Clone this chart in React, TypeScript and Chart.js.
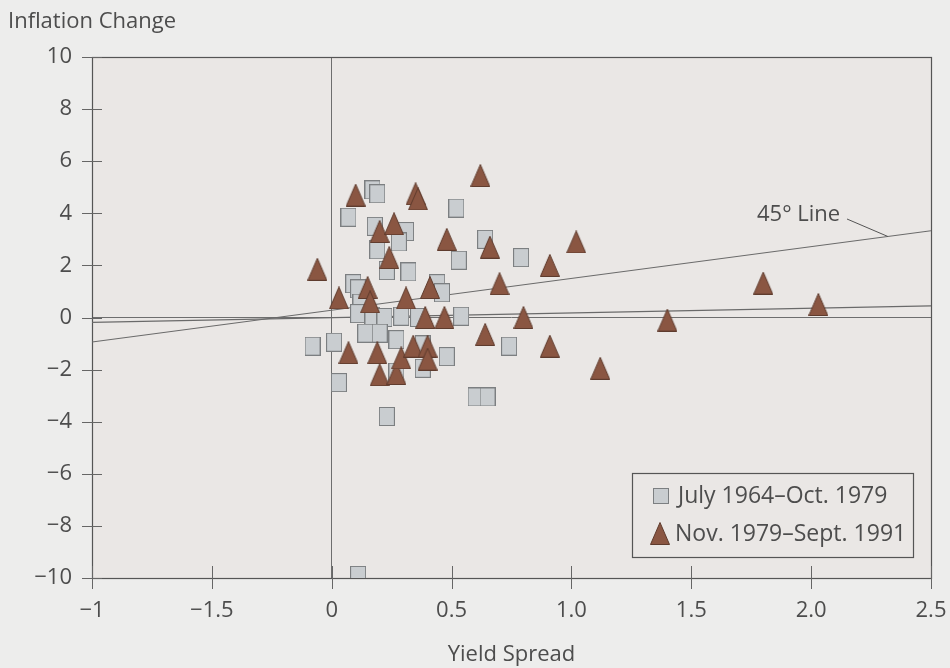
import React, { useEffect, useRef } from 'react';
import { Chart, registerables } from 'chart.js';

Chart.register(...registerables);

const seriesNames = ['July 1964–Oct. 1979', 'Nov. 1979–Sept. 1991'];
const xTickLabels = ['−1', '−1.5', '0', '0.5', '1.0', '1.5', '2.0', '2.5'];
const yTickLabels = ['−10', '−8', '−6', '−4', '−2', '0', '2', '4', '6', '8', '10'];

const squaresX = [-0.08, 0.01, 0.03, 0.07, 0.09, 0.11, 0.12, 0.11, 0.17, 0.22, 0.14, 0.2, 0.27, 0.17, 0.19, 0.18, 0.31, 0.28, 0.19, 0.23, 0.32, 0.52, 0.64, 0.53, 0.79, 0.44, 0.46, 0.54, 0.48, 0.74, 0.38, 0.27, 0.23, 0.6, 0.65, 0.11, 0.29, 0.36, 0.38];
const squaresY = [-1.1, -0.95, -2.5, 3.85, 1.3, 1.1, 0.55, 0.15, 0.05, 0, -0.6, -0.6, -0.85, 4.9, 4.75, 3.5, 3.3, 2.9, 2.6, 1.8, 1.75, 4.2, 3.0, 2.2, 2.3, 1.3, 0.95, 0.05, -1.5, -1.1, -1.95, -2.1, -3.8, -3.05, -3.05, -9.9, 0.05, 0, -1.05];

const trianglesX = [-0.06, 0.03, 0.07, 0.1, 0.15, 0.16, 0.2, 0.19, 0.2, 0.24, 0.26, 0.27, 0.29, 0.31, 0.35, 0.36, 0.34, 0.4, 0.4, 0.41, 0.39, 0.47, 0.48, 0.62, 0.66, 0.64, 0.7, 0.8, 0.91, 0.91, 1.02, 1.12, 1.4, 1.8, 2.03];
const trianglesY = [1.85, 0.75, -1.35, 4.7, 1.15, 0.6, 3.3, -1.35, -2.2, 2.3, 3.6, -2.15, -1.55, 0.75, 4.75, 4.55, -1.1, -1.1, -1.6, 1.15, 0, 0, 3.0, 5.45, 2.7, -0.65, 1.3, 0, 2.0, -1.1, 2.9, -1.95, -0.1, 1.32, 0.5];

const line45X = [-1, 2.5];
const line45Y = [-0.94, 3.33];
const fitX = [-1, 2.5];
const fitY = [-0.19, 0.45];

const FONT = "'Open Sans', sans-serif";
const TEXT = '#4d4d4d';
const SQ_FILL = '#c9cdd0';
const SQ_EDGE = '#7c7f81';
const TRI_FILL = '#8a5642';
const TRI_EDGE = '#5e3b2d';

function makeSquare(w: number, h: number) {
  const c = document.createElement('canvas');
  c.width = w;
  c.height = h;
  const g = c.getContext('2d')!;
  g.fillStyle = SQ_FILL;
  g.fillRect(0.5, 0.5, w - 1, h - 1);
  g.strokeStyle = SQ_EDGE;
  g.lineWidth = 1;
  g.strokeRect(0.5, 0.5, w - 1, h - 1);
  return c;
}

function makeTriangle(w: number, h: number) {
  const c = document.createElement('canvas');
  c.width = w;
  c.height = h;
  const g = c.getContext('2d')!;
  g.beginPath();
  g.moveTo(w / 2, 0.5);
  g.lineTo(w - 0.5, h - 0.5);
  g.lineTo(0.5, h - 0.5);
  g.closePath();
  g.fillStyle = TRI_FILL;
  g.fill();
  g.strokeStyle = TRI_EDGE;
  g.lineWidth = 1;
  g.stroke();
  return c;
}

export default function App() {
  const ref = useRef<HTMLCanvasElement | null>(null);

  useEffect(() => {
    if (!ref.current) return;
    const sqImg = makeSquare(16, 19);
    const triImg = makeTriangle(20, 23);
    const sqLegend = makeSquare(16, 16);

    const decor = {
      id: 'decor',
      beforeDraw(chart: any) {
        const { ctx, chartArea: a } = chart;
        ctx.save();
        ctx.fillStyle = '#ededec';
        ctx.fillRect(0, 0, chart.width, chart.height);
        ctx.fillStyle = '#eae7e5';
        ctx.fillRect(a.left, a.top, a.right - a.left, a.bottom - a.top);
        ctx.restore();
      },
      beforeDatasetsDraw(chart: any) {
        const { ctx, chartArea: a, scales } = chart;
        ctx.save();
        ctx.strokeStyle = '#555555';
        ctx.lineWidth = 1.2;
        ctx.strokeRect(a.left + 0.5, a.top + 0.5, a.right - a.left, a.bottom - a.top);
        ctx.lineWidth = 1;
        ctx.strokeStyle = '#666666';
        ctx.beginPath();
        scales.x.ticks.forEach((t: any) => {
          const px = Math.round(scales.x.getPixelForValue(t.value)) + 0.5;
          ctx.moveTo(px, a.bottom - 12);
          ctx.lineTo(px, a.bottom + 11);
        });
        scales.y.ticks.forEach((t: any) => {
          const py = Math.round(scales.y.getPixelForValue(t.value)) + 0.5;
          ctx.moveTo(a.left - 10, py);
          ctx.lineTo(a.left + 10, py);
        });
        ctx.stroke();
        ctx.restore();
      },
      afterDraw(chart: any) {
        const { ctx, chartArea: a, scales } = chart;
        ctx.save();
        ctx.fillStyle = TEXT;
        ctx.font = `22px ${FONT}`;
        ctx.textBaseline = 'middle';
        ctx.textAlign = 'left';
        ctx.fillText('Inflation Change', 8, 22);
        ctx.textAlign = 'center';
        ctx.fillText('Yield Spread', (a.left + a.right) / 2, 655);

        // 45° line label
        ctx.textAlign = 'left';
        ctx.font = `22px ${FONT}`;
        ctx.fillText('45° Line', 757, 215);
        const ex = 2.32;
        const ey = line45Y[0] + ((ex - line45X[0]) * (line45Y[1] - line45Y[0])) / (line45X[1] - line45X[0]);
        ctx.strokeStyle = '#555555';
        ctx.lineWidth = 1;
        ctx.beginPath();
        ctx.moveTo(847, 219);
        ctx.lineTo(scales.x.getPixelForValue(ex), scales.y.getPixelForValue(ey));
        ctx.stroke();

        // legend
        ctx.strokeStyle = '#555555';
        ctx.lineWidth = 1.2;
        ctx.strokeRect(632.5, 473.5, 281, 84);
        ctx.drawImage(sqLegend, 653, 488);
        ctx.drawImage(triImg, 650, 522);
        ctx.fillStyle = TEXT;
        ctx.font = `23px ${FONT}`;
        ctx.textBaseline = 'middle';
        ctx.fillText(seriesNames[0], 678, 496);
        ctx.fillText(seriesNames[1], 675, 534);
        ctx.restore();
      },
    };

    const gridColor = (c: any) => (c.tick && c.tick.value === 0 ? '#6e6e6e' : 'rgba(0,0,0,0)');

    const chart = new Chart(ref.current, {
      type: 'scatter',
      data: {
        datasets: [
          {
            label: seriesNames[0],
            data: squaresX.map((x, i) => ({ x, y: squaresY[i] })),
            pointStyle: sqImg as any,
            pointRadius: 10,
            order: 2,
          },
          {
            label: seriesNames[1],
            data: trianglesX.map((x, i) => ({ x, y: trianglesY[i] })),
            pointStyle: triImg as any,
            pointRadius: 10,
            order: 1,
          },
          {
            label: '45° Line',
            data: line45X.map((x, i) => ({ x, y: line45Y[i] })),
            showLine: true,
            borderColor: '#6a6a6a',
            borderWidth: 1.2,
            pointRadius: 0,
            order: 3,
          },
          {
            label: 'Fit',
            data: fitX.map((x, i) => ({ x, y: fitY[i] })),
            showLine: true,
            borderColor: '#6a6a6a',
            borderWidth: 1.2,
            pointRadius: 0,
            order: 3,
          },
        ],
      },
      options: {
        animation: false,
        responsive: true,
        maintainAspectRatio: false,
        layout: { padding: { top: 57, right: 19, left: 0, bottom: 0 } },
        plugins: {
          legend: { display: false },
          tooltip: { enabled: false },
          title: { display: false },
        },
        scales: {
          x: {
            type: 'linear',
            min: -1,
            max: 2.5,
            afterFit: (s: any) => {
              s.height = 90;
              s.paddingLeft = 0;
              s.paddingRight = 0;
            },
            ticks: {
              stepSize: 0.5,
              autoSkip: false,
              maxRotation: 0,
              padding: 20,
              color: TEXT,
              font: { family: FONT, size: 22 },
              callback: (_v: any, i: number) => xTickLabels[i],
            },
            grid: { color: gridColor, drawTicks: false, lineWidth: 1 },
            border: { display: false },
          },
          y: {
            type: 'linear',
            min: -10,
            max: 10,
            afterFit: (s: any) => {
              s.width = 92;
              s.paddingTop = 0;
              s.paddingBottom = 0;
            },
            ticks: {
              stepSize: 2,
              autoSkip: false,
              padding: 20,
              color: TEXT,
              font: { family: FONT, size: 22 },
              callback: (_v: any, i: number) => yTickLabels[i],
            },
            grid: { color: gridColor, drawTicks: false, lineWidth: 1 },
            border: { display: false },
          },
        },
      },
      plugins: [decor],
    });

    return () => chart.destroy();
  }, []);

  return (
    <div style={{ position: 'fixed', left: 0, top: 0, width: 950, height: 668 }}>
      <canvas ref={ref} width={950} height={668} />
    </div>
  );
}
